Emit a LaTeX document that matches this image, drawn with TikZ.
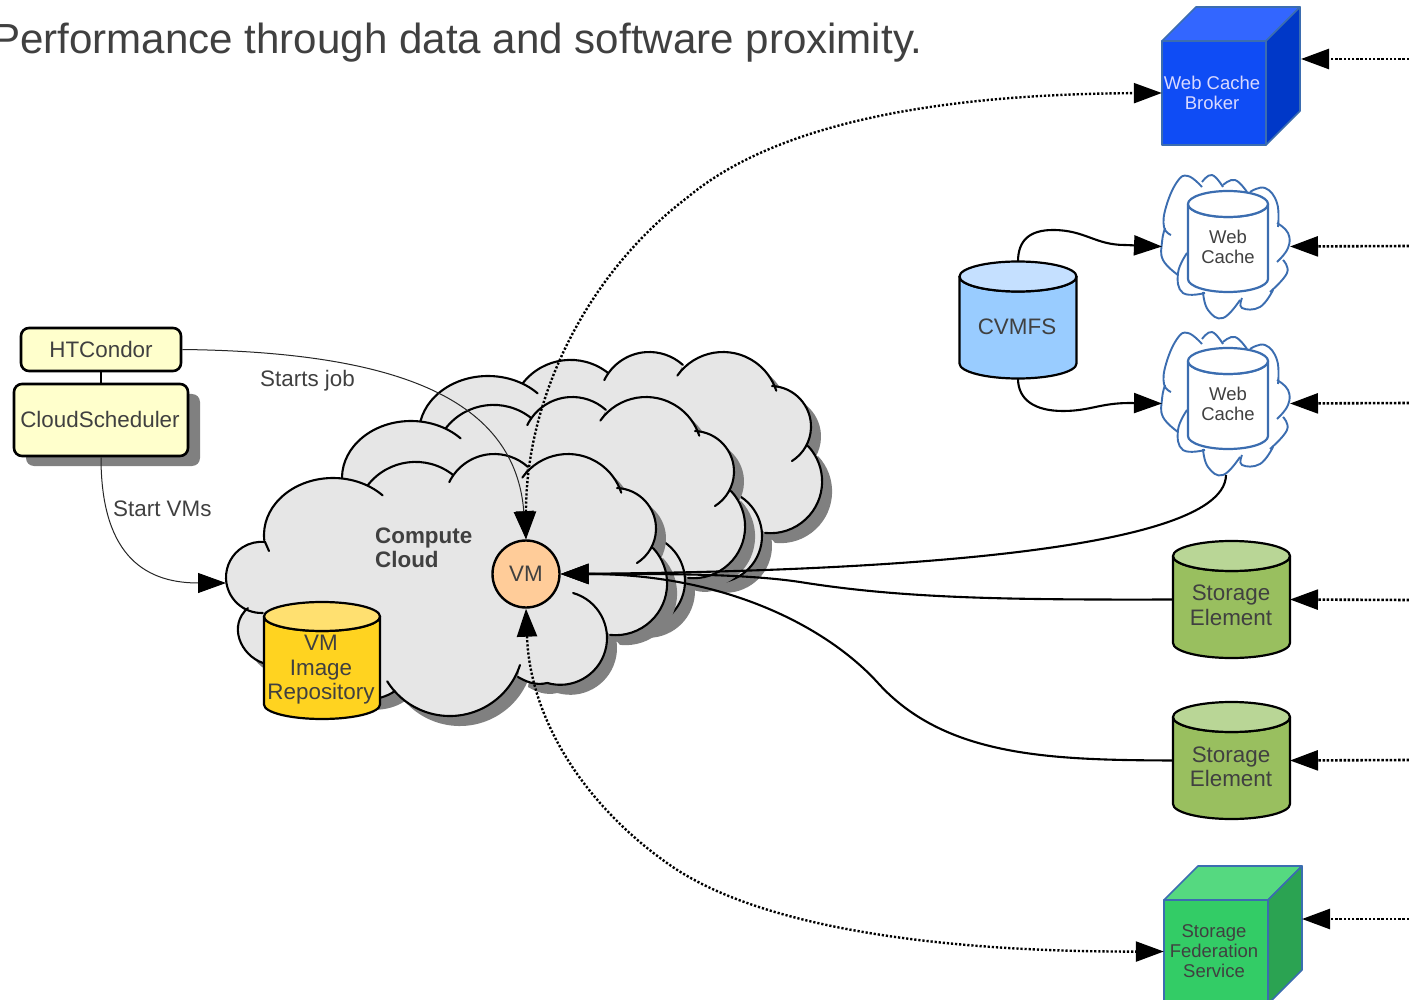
\documentclass[tikz,border=0pt]{standalone}
\usepackage{fontspec}
\setmainfont{Liberation Sans}
\usetikzlibrary{arrows.meta}
\definecolor{txt}{HTML}{404040}
\definecolor{shadowgray}{HTML}{808080}
\definecolor{cloudgray}{HTML}{E6E6E6}
\definecolor{bluel}{HTML}{3B6DB0}
\definecolor{boxyellow}{HTML}{FFFFCC}
\definecolor{vmorange}{HTML}{FFCC99}
\definecolor{repobody}{HTML}{FFD320}
\definecolor{repotop}{HTML}{FFE070}
\definecolor{cvbody}{HTML}{99CCFF}
\definecolor{cvtop}{HTML}{C5E0FF}
\definecolor{sebody}{HTML}{99BF5F}
\definecolor{setop}{HTML}{B9D696}
\definecolor{bfront}{HTML}{0F4CF5}
\definecolor{btop}{HTML}{3366FF}
\definecolor{bside}{HTML}{0038C8}
\definecolor{gfront}{HTML}{33CC66}
\definecolor{gtop}{HTML}{55D980}
\definecolor{gside}{HTML}{2BA352}
\tikzset{
  x=1pt,y=-1pt,
  bigtip/.tip={Triangle[length=28pt,width=20pt]},
  solidconn/.style={line width=2.1pt,draw=black},
  thinconn/.style={line width=1pt,draw=black!85},
  dotconn/.style={line width=2.4pt,draw=black,dash pattern=on 2.2pt off 1.9pt},
  inconn/.style={line width=2.6pt,draw=black,dash pattern=on 2.5pt off 1.7pt},
  label22/.style={text=txt,inner sep=0pt,align=center,font=\fontsize{22.4}{24.5}\selectfont},
  label18/.style={text=txt,inner sep=0pt,align=center,font=\fontsize{18.5}{20}\selectfont},
  boxnode/.style={draw=black,line width=2.6pt,rounded corners=8pt,fill=#1,inner sep=0pt,text=txt,font=\fontsize{22.4}{24.5}\selectfont},
  anchorbox/.style={inner sep=0pt,outer sep=0pt,minimum width=#1},
  lobe/.style={smooth,tension=.75},
}
% one lobe: centre x, centre y, radius x, radius y, start angle, end angle (angles run clockwise on the page)
\newcommand{\lb}[6]{({#1+#3*cos(#5)},{#2+#4*sin(#5)}) arc (#5:#6:#3 and #4)}
% cloud outline; #1 is the connector between lobes ("--" for a fill, empty for the stroke)
\newcommand{\cloudoutline}[1]{
  \lb{261.6}{577.4}{35.6}{35.6}{88}{275.5} -- (269,551)
  #1 \lb{333}{535}{69}{57}{175}{316}
  #1 \lb{415.5}{522.4}{60.5}{60.5}{218}{308}
  #1 \lb{494.3}{504.1}{50.1}{50.1}{206}{312}
  #1 \lb{568}{510}{56}{56}{215.4}{342}
  #1 \lb{615.4}{528.6}{40.6}{40.6}{272.3}{418}
  #1 \lb{615.4}{583.5}{51.7}{51.7}{316.6}{456}
  #1 \lb{560.2}{638}{46.8}{46.8}{286}{466} .. controls (535,686) and (525,681) .. (518,677)
  #1 \lb{449.8}{642.2}{73.8}{73.8}{18}{148}
  #1 (395,691) .. controls (360,715) and (300,685) .. (263,663) .. controls (240,655) and (228,625) .. (248,608)
}
\newcommand{\bigcloud}[2]{
  \begin{scope}[shift={(#1,#2)}]
    \fill[shadowgray,shift={(10,10)}] \cloudoutline{--};
    \fill[cloudgray] \cloudoutline{--};
    \draw[black,line width=2.1pt,line cap=round] \cloudoutline{};
  \end{scope}
}
\newcommand{\cachecloud}[1]{
  \begin{scope}[shift={(0,#1)},bluel,line width=1.9pt]
    \draw plot[lobe] coordinates {(1171,235)(1164,227)(1166,207)(1177,182)(1188,176)(1202,187)};
    \draw plot[lobe] coordinates {(1202,182)(1212,175)(1223,187)};
    \draw plot[lobe] coordinates {(1223,185)(1235,180)(1247,192)};
    \draw plot[lobe] coordinates {(1250,192)(1265,188)(1277,203)(1278,227)};
    \draw plot[lobe] coordinates {(1277,223)(1288,233)(1288,248)(1277,262)};
    \draw plot[lobe] coordinates {(1283,260)(1287,273)(1270,292)};
    \draw plot[lobe] coordinates {(1273,290)(1260,307)(1242,308)(1242,298)};
    \draw plot[lobe] coordinates {(1240,300)(1223,318)(1208,310)(1203,292)};
    \draw plot[lobe] coordinates {(1205,293)(1183,293)(1178,273)(1187,253)};
    \draw plot[lobe] coordinates {(1178,275)(1163,260)(1162,242)(1165,228)};
  \end{scope}
}
% #1 name, #2 cx, #3 cy, #4 half width, #5 half height, #6 ry, #7 body, #8 top, #9 stroke
\newcommand{\cyl}[9]{
  \begin{scope}[shift={(#2,#3)},line width=2.2pt,line join=round]
    \filldraw[fill=#7,draw=#9] (-#4,{-#5+#6}) -- (-#4,{#5-#6}) arc (180:0:#4 and #6) -- (#4,{-#5+#6}) arc (0:180:#4 and #6) -- cycle;
    \filldraw[fill=#8,draw=#9] (0,{-#5+#6}) ellipse (#4 and #6);
  \end{scope}
  \node[anchor=center,minimum width=2*#4 pt,minimum height=2*#5 pt,inner sep=0pt,outer sep=0pt] (#1) at (#2,#3) {};
}
% #1 x left, #2 y top, #3 face size, #4 front, #5 top, #6 side
\newcommand{\cube}[6]{
  \begin{scope}[shift={(#1,#2)},draw=bluel,line width=1.6pt,line join=round]
    \filldraw[fill=#5] (0,0) -- (34,-34) -- ({#3+34},-34) -- (#3,0) -- cycle;
    \filldraw[fill=#6] (#3,0) -- ({#3+34},-34) -- ({#3+34},{#3-34}) -- (#3,#3) -- cycle;
    \filldraw[fill=#4] (0,0) rectangle (#3,#3);
  \end{scope}
}
\begin{document}
\begin{tikzpicture}
\useasboundingbox (0,0) rectangle (1409,1000);
\clip (0,0) rectangle (1409,1000);
\fill[white] (0,0) rectangle (1409,1000);

\node[anchor=base west,inner sep=0pt,text=txt,font=\fontsize{42.1}{46}\selectfont] (title) at (-8,54) {Performance through data and software proximity.};

% compute clouds
\bigcloud{155}{-102}
\bigcloud{78}{-57}
\bigcloud{0}{0}
\node[label22,align=left,font=\bfseries\fontsize{22.4}{24.5}\selectfont,anchor=west] (cc) at (375,548) {Compute\\Cloud};
\coordinate (cloudin) at (226,583);

% boxes
\fill[shadowgray,rounded corners=8pt] (26,394) rectangle (200,466);
\node[boxnode=boxyellow,minimum width=160pt,minimum height=43pt] (condor) at (101,349.5) {HTCondor};
\node[boxnode=boxyellow,minimum width=174pt,minimum height=72pt] (sched) at (101,420) {\raisebox{1pt}{\hspace*{-2pt}CloudScheduler}};
\draw[black,line width=2.6pt] (condor.south) -- (sched.north);

% VM
\node[circle,draw=black,line width=2.4pt,fill=vmorange,minimum size=67pt,inner sep=0pt,text=txt,font=\fontsize{22.4}{24}\selectfont] (vm) at (526,574) {VM};

% VM image repository
\cyl{repo}{322}{660.5}{58}{58.5}{14.5}{repobody}{repotop}{black}
\node[label22] (repoT) at (321,670) {VM\\Image\\Repository};

% CVMFS
\cyl{cvmfs}{1018}{320}{58.5}{58.5}{15}{cvbody}{cvtop}{black}
\node[label22] (cvmfsT) at (1017,327) {CVMFS};

% web caches
\cachecloud{0}
\cachecloud{157}
\node[anchorbox=128pt,minimum height=143pt] (wc1) at (1226,246.5) {};
\node[anchorbox=128pt,minimum height=143pt] (wc2) at (1226,403.5) {};
\cyl{wcyl1}{1228}{241.5}{40}{50.5}{13}{white}{white}{bluel}
\node[label18] (wct1) at (1228,247) {Web\\Cache};
\cyl{wcyl2}{1228}{398.5}{40}{50.5}{13}{white}{white}{bluel}
\node[label18] (wct2) at (1228,404) {Web\\Cache};

% storage elements
\cyl{se1}{1231.5}{599.5}{58.5}{58.5}{15}{sebody}{setop}{black}
\node[label22] (se1T) at (1231,605.5) {Storage\\Element};
\cyl{se2}{1231.5}{760.5}{58.5}{58.5}{15}{sebody}{setop}{black}
\node[label22] (se2T) at (1231,767) {Storage\\Element};

% cubes
\cube{1162}{41}{104}{bfront}{btop}{bside}
\node[label18,text=blue!15!white,minimum width=100pt,minimum height=104pt] (broker) at (1212,93) {Web Cache\\Broker};
\coordinate (brokerback) at (1301,59);
\cube{1164}{900}{104}{gfront}{gtop}{gside}
\node[label18,minimum width=100pt,minimum height=104pt] (fed) at (1214,951.5) {Storage\\Federation\\Service};
\coordinate (fedback) at (1302,919);

% free ends
\coordinate (in1) at (1409,59);
\coordinate (in2) at (1409,246);
\coordinate (in3) at (1409,403);
\coordinate (in4) at (1409,600);
\coordinate (in5) at (1409,760);
\coordinate (in6) at (1409,919);

% thin connectors
\draw[thinconn,-{bigtip[black]}] (condor.east) .. controls (400,352) and (515,400) .. (vm.north);
\draw[thinconn,-{bigtip[black]}] (sched.south) .. controls (101,550) and (140,583) .. (cloudin);
\node[label22,anchor=west] (sj) at (260,381) {Starts job};
\node[label22,anchor=west] (sv) at (113,508.5) {Start VMs};

% dotted connectors
\draw[dotconn,{bigtip}-{bigtip}] (vm.north) .. controls (526,400) and (585,275) .. (688,197) .. controls (790,112) and (980,94) .. (broker.west);
\draw[dotconn,{bigtip}-{bigtip}] (vm.south) .. controls (530,720) and (585,805) .. (667,863) .. controls (760,930) and (950,952) .. (fed.west);
\draw[inconn,-{bigtip}] (in1) -- (brokerback);
\draw[inconn,-{bigtip}] (in2) -- (wc1.east);
\draw[inconn,-{bigtip}] (in3) -- (wc2.east);
\draw[inconn,-{bigtip}] (in4) -- (se1.east);
\draw[inconn,-{bigtip}] (in5) -- (se2.east);
\draw[inconn,-{bigtip}] (in6) -- (fedback);

% solid connectors
\draw[solidconn,-{bigtip}] (cvmfs.north) .. controls (1018,240) and (1030,230) .. (1053,230) .. controls (1085,230) and (1095,245) .. (1125,245) -- (wc1.west);
\draw[solidconn,-{bigtip}] (cvmfs.south) .. controls (1018,400) and (1035,411) .. (1063,411) .. controls (1090,411) and (1100,403) .. (1130,403) -- (wc2.west);
\draw[solidconn,-{bigtip}] (wc2.south) .. controls (1225,560) and (800,572) .. (vm.east);
\draw[solidconn,-{bigtip}] (se1.west) .. controls (1000,600) and (900,598) .. (800,582) .. controls (740,573) and (650,574) .. (vm.east);
\draw[solidconn,-{bigtip}] (se2.west) .. controls (1050,760) and (945,757) .. (878,683) .. controls (830,630) and (730,574) .. (vm.east);
\end{tikzpicture}
\end{document}
